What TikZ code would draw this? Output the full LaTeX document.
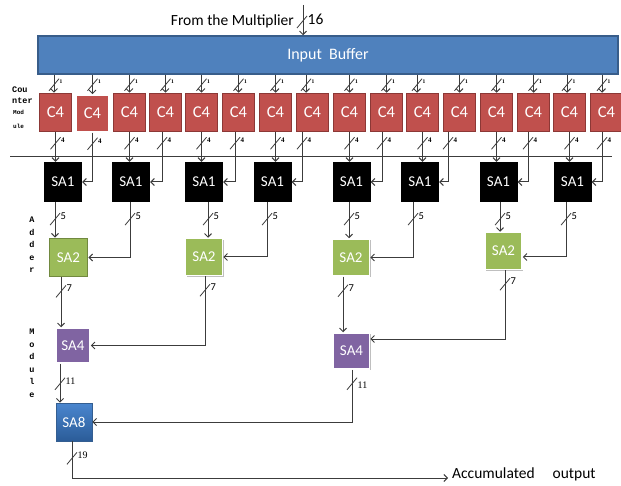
\documentclass[tikz,border=0pt]{standalone}
\usepackage{fontspec}
\setmainfont{Carlito}
\newfontfamily\tinymono{Liberation Mono}
\newfontfamily\numserif{Liberation Serif}
\usetikzlibrary{arrows.meta,shadows,calc}

\definecolor{bufblue}{HTML}{4F81BD}
\definecolor{bufedge}{HTML}{385D8A}
\definecolor{cfour}{HTML}{C0504D}
\definecolor{cfouredge}{HTML}{8C3836}
\definecolor{satwo}{HTML}{9BBB59}
\definecolor{satwoedge}{HTML}{71893F}
\definecolor{safour}{HTML}{8064A2}
\definecolor{saeighttop}{HTML}{4A86CF}
\definecolor{saeightbot}{HTML}{2B5C98}
\definecolor{wiregray}{HTML}{3C3C3C}

\tikzset{
  wire/.style={draw=wiregray, line width=1pt},
  arr/.style={wire, -{Straight Barb[length=3.5pt,width=7pt]}},
  slashline/.style={draw=wiregray, line width=0.8pt},
  buslbl/.style={anchor=west, inner sep=0.5pt, font=\fontsize{10.5}{10.5}\selectfont},
  pics/bus/.style={code={
    \draw[slashline] (-5pt,-6pt) -- (5pt,6pt);
    \node[buslbl] at (5pt,3pt) {#1};
  }},
  tinylbl/.style={buslbl/.style={anchor=west, inner sep=0.5pt, font=\numserif\bfseries\fontsize{5.5}{5.5}\selectfont}},
  fourlbl/.style={buslbl/.style={anchor=west, inner sep=0.5pt, font=\numserif\bfseries\fontsize{7}{7}\selectfont}},
  seriflbl/.style={buslbl/.style={anchor=west, inner sep=0.5pt, font=\numserif\fontsize{10}{10}\selectfont}},
  shadowed/.style={drop shadow={shadow xshift=1.2pt, shadow yshift=-1.2pt, opacity=0.25, fill=black}},
  block/.style={inner sep=0pt, text=white, font=\fontsize{16.5}{16.5}\selectfont},
  bufbox/.style={block, fill=bufblue, draw=bufedge, line width=1.5pt, minimum width=580pt, minimum height=38pt},
  cbox/.style={block, fill=cfour, draw=cfouredge, line width=1.5pt, minimum width=32pt, minimum height=38pt},
  cboxlight/.style={block, shadowed, fill=cfour, draw=white, line width=1.5pt, minimum width=33pt, minimum height=37pt},
  safont/.style={font=\fontsize{15}{15}\selectfont},
  saone/.style={block, safont, fill=black, minimum width=38pt, minimum height=40pt},
  satwobox/.style={block, safont, shadowed, fill=satwo, draw=white, line width=1.5pt, minimum width=37pt, minimum height=37pt},
  safourbox/.style={block, safont, shadowed, fill=safour, draw=white, line width=1.5pt, minimum width=36pt, minimum height=36pt},
  saeightbox/.style={block, safont, shadowed, top color=saeighttop, bottom color=saeightbot, draw=saeighttop!70!black, line width=0.6pt, minimum width=36pt, minimum height=38pt},
  sidelbl/.style={inner sep=0pt, align=center, font=\tinymono\bfseries\fontsize{8.5}{12.5}\selectfont}
}

\begin{document}
\begin{tikzpicture}[x=1pt, y=-1pt]
\useasboundingbox (0,0) rectangle (621,486);

% input buffer and its feed
\node[bufbox, font=\fontsize{16}{16}\selectfont] (buf) at (328,55) {Input\ \ Buffer};
\node[anchor=east, inner sep=0pt, font=\fontsize{15.5}{15.5}\selectfont] (from) at (294,21) {From the Multiplier};
\coordinate (feed) at (303,5);
\draw[arr] (feed) -- (feed |- buf.north);
\pic[buslbl/.append style={font=\fontsize{15.5}{15.5}\selectfont}] at (302,22) {bus=16};

% counter modules
\foreach \i/\x in {1/55.5, 3/129.5, 4/165.5, 5/201.5, 6/238.5, 7/275.5,
                   8/312.5, 9/349.5, 10/386.5, 11/422.5, 12/459.5,
                   13/496.5, 14/533.5, 15/569.5, 16/606.5} {
  \node[cbox] (c\i) at (\x,112.5) {C4};
}
\node[cboxlight] (c2) at (92.5,113.5) {C4};
\foreach \i/\dx in {1/-1.5, 2/0, 3/0, 4/0, 5/0, 6/0, 7/0, 8/-6.5, 9/0, 10/0, 11/-5.5,
                    12/0, 13/0, 14/0, 15/-2.5, 16/-4.5} {
  \draw[arr] ([xshift=\dx pt]c\i.north |- buf.south) -- ([xshift=\dx pt]c\i.north);
  \pic[tinylbl] at ($([xshift=\dx pt]c\i.north |- buf.south)+(0,10)$) {bus=1};
}

% separator line
\coordinate (sepw) at (10,157);
\coordinate (sepe) at (612,157);
\draw[wire] (sepw) -- (sepe);

% first adder stage
\foreach \k/\x in {1/63, 2/131, 3/204, 4/272.5, 5/351.5, 6/420, 7/498.5, 8/572.5} {
  \node[saone] (s\k) at (\x,182) {SA1};
}
\foreach \k/\a/\b/\db in {1/1/2/0, 2/3/4/-3.5, 3/5/6/-3.5, 4/7/8/-10.5,
                          5/9/10/-4.5, 6/11/12/-11.5, 7/13/14/-5.5, 8/15/16/-4.5} {
  \draw[arr] (c\a.south) -- (c\a.south |- s\k.north);
  \draw[arr] ([xshift=\db pt]c\b.south) |- (s\k.east);
  \pic[fourlbl] at ($(c\a.south)+(0,11)$) {bus=4};
  \pic[fourlbl] at ($([xshift=\db pt]c\b.south)+(0,11)$) {bus=4};
}

% second adder stage
\node[block, safont, fill=satwo, draw=satwoedge, line width=1.8pt, minimum width=38pt, minimum height=38pt] (t1) at (68.5,257.5) {SA2};
\node[satwobox] (t2) at (204,257) {SA2};
\node[satwobox] (t3) at (351,257.5) {SA2};
\node[satwobox] (t4) at (503.5,251) {SA2};
\foreach \m/\a/\b/\da/\db/\ey in {1/1/2/-8/-1/0, 2/3/4/4/-5.5/0, 3/5/6/-2.5/-7/0, 4/7/8/1.5/-6.5/-6} {
  \draw[arr] ([xshift=\da pt]s\a.south) -- ([xshift=\da pt]s\a.south |- t\m.north);
  \draw[arr] ([xshift=\db pt]s\b.south) |- ([yshift=\ey pt]t\m.east);
  \pic at ($([xshift=\da pt]s\a.south)+(0,17)$) {bus=5};
  \pic at ($([xshift=\db pt]s\b.south)+(0,17)$) {bus=5};
}

% third adder stage
\node[safourbox, minimum width=34pt, minimum height=35pt] (f1) at (73,345.5) {SA4};
\node[safourbox] (f2) at (351.5,351) {SA4};
\draw[arr] ([xshift=-7.5pt]t1.south) -- ([xshift=-7.5pt]t1.south |- f1.north);
\draw[arr] ([xshift=1pt]t2.south) |- (f1.east);
\draw[arr] ([xshift=-8pt]t3.south) -- ([xshift=-8pt]t3.south |- f2.north);
\draw[arr] ([xshift=1.5pt]t4.south) |- ([yshift=12pt]f2.east);
\pic at ($([xshift=-7.5pt]t1.south)+(0,14)$) {bus=7};
\pic at ($([xshift=1pt]t2.south)+(0,14)$) {bus=7};
\pic at ($([xshift=-8pt]t3.south)+(0,14)$) {bus=7};
\pic at ($([xshift=1.5pt]t4.south)+(0,14)$) {bus=7};

% final adder and output
\node[saeightbox] (e1) at (74,422) {SA8};
\draw[arr] ([xshift=-13pt]f1.south) -- ([xshift=-13pt]f1.south |- e1.north);
\draw[arr] ([xshift=0.5pt]f2.south) |- (e1.east);
\pic[seriflbl] at ($([xshift=-13pt]f1.south)+(0,20)$) {bus=11};
\pic[seriflbl, buslbl/.append style={anchor=north west}] at ($([xshift=0.5pt]f2.south)+(0,14)$) {bus=11};

\coordinate (out) at (448,478);
\draw[arr] ([xshift=-2pt]e1.south) |- (out);
\pic[seriflbl] at ($([xshift=-2pt]e1.south)+(0,17)$) {bus=19};
\node[anchor=west, inner sep=0pt, font=\fontsize{15.5}{15.5}\selectfont] (acc) at (452,474) {Accumulated\hspace{18pt}output};

% stage captions
\node[sidelbl, anchor=north west] (cou) at (12,87) {Cou};
\node[sidelbl, anchor=north west] (nter) at (12,98) {nter};
\node[sidelbl, anchor=north west, font=\tinymono\bfseries\fontsize{6}{6}\selectfont] (mod) at (13,110) {Mod};
\node[sidelbl, anchor=north west, font=\tinymono\bfseries\fontsize{6}{6}\selectfont] (ule) at (13,124) {ule};
\node[sidelbl, anchor=north] (adder) at (32,217) {A\\d\\d\\e\\r};
\node[sidelbl, anchor=north] (module) at (32,329) {M\\o\\d\\u\\l\\e};
\end{tikzpicture}
\end{document}
